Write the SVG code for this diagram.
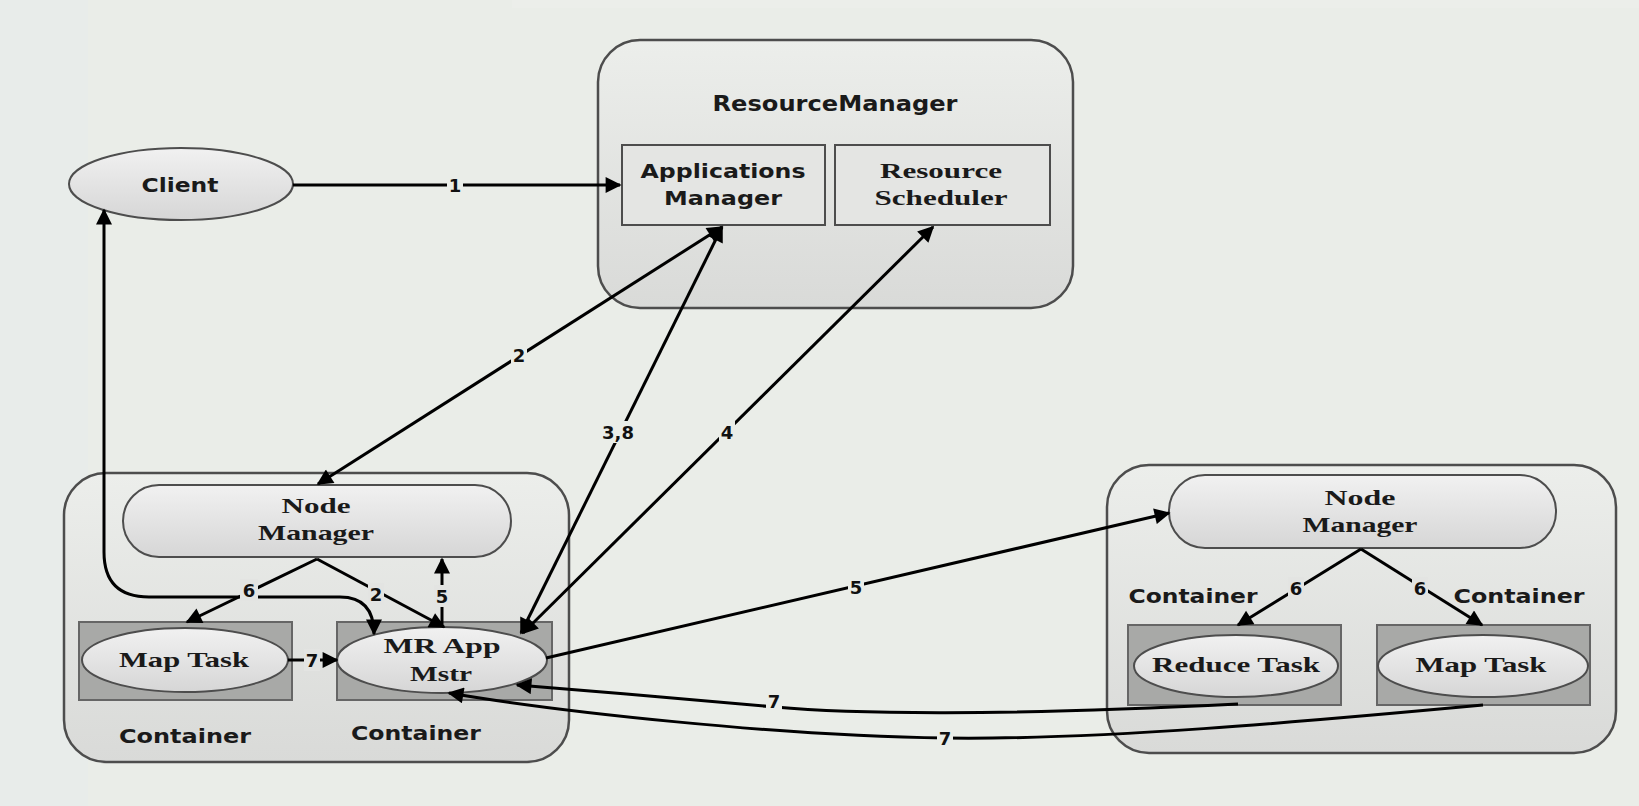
<svg xmlns="http://www.w3.org/2000/svg" width="1639" height="806" viewBox="0 0 1639 806">
<defs>
<linearGradient id="gOuter" x1="0" y1="0" x2="0" y2="1"><stop offset="0" stop-color="#eceeeb"/><stop offset="1" stop-color="#d9dad8"/></linearGradient>
<linearGradient id="gNode" x1="0" y1="0" x2="0" y2="1"><stop offset="0" stop-color="#f1f1f1"/><stop offset="1" stop-color="#d6d6d6"/></linearGradient>
<marker id="ah" viewBox="0 0 10 10" markerWidth="20" markerHeight="16" refX="9" refY="5" orient="auto-start-reverse" markerUnits="userSpaceOnUse"><path d="M0,0 L10,5 L0,10 z" fill="#000"/></marker>
<style>
.outer{fill:url(#gOuter);stroke:#4d4d4d;stroke-width:2.5}
.node{fill:url(#gNode);stroke:#4d4d4d;stroke-width:2}
.box{fill:#e4e5e3;stroke:#4d4d4d;stroke-width:2}
.cont{fill:#a8a9a7;stroke:#666;stroke-width:2}
.sans{font-family:"DejaVu Sans","Liberation Sans",sans-serif;font-weight:bold;fill:#1a1a1a;text-anchor:middle}
.serif{font-family:"Liberation Serif","DejaVu Serif",serif;font-weight:bold;fill:#1a1a1a;text-anchor:middle}
.lbl{font-family:"DejaVu Sans","Liberation Sans",sans-serif;font-weight:bold;font-size:18px;fill:#111;text-anchor:middle}
.c{fill:none;stroke:#000;stroke-width:3}
.bg{fill:#eaede8}
.bgc{fill:#e3e4e2}
</style>
</defs>
<rect width="1639" height="806" fill="#eaede8"/>
<rect x="0" y="0" width="88" height="806" fill="#e8ecea"/>
<rect x="512" y="0" width="1127" height="8" fill="#eceeea"/>

<g id="resourcemanager">
<rect class="outer" x="598" y="40" width="475" height="268" rx="42"/>
<text class="sans" x="835" y="111" font-size="21" textLength="245" lengthAdjust="spacingAndGlyphs">ResourceManager</text>
</g>
<g id="applications-manager">
<rect class="box" x="622" y="145" width="203" height="80"/>
<text class="sans" x="723" y="178" font-size="20" textLength="165" lengthAdjust="spacingAndGlyphs">Applications</text>
<text class="sans" x="723" y="205" font-size="20" textLength="118" lengthAdjust="spacingAndGlyphs">Manager</text>
</g>
<g id="resource-scheduler">
<rect class="box" x="835" y="145" width="215" height="80"/>
<text class="serif" x="941" y="178" font-size="22" textLength="122" lengthAdjust="spacingAndGlyphs">Resource</text>
<text class="serif" x="941" y="205" font-size="22" textLength="133" lengthAdjust="spacingAndGlyphs">Scheduler</text>
</g>
<g id="client">
<ellipse class="node" cx="181" cy="184" rx="112" ry="36"/>
<text class="sans" x="180" y="192" font-size="20" textLength="77" lengthAdjust="spacingAndGlyphs">Client</text>
</g>

<g id="left-node">
<rect class="outer" x="64" y="473" width="505" height="289" rx="42"/>
</g>
<g id="left-nodemanager">
<rect class="node" x="123" y="485" width="388" height="72" rx="36"/>
<text class="serif" x="316" y="513" font-size="22" textLength="69" lengthAdjust="spacingAndGlyphs">Node</text>
<text class="serif" x="316" y="540" font-size="22" textLength="116" lengthAdjust="spacingAndGlyphs">Manager</text>
</g>
<g id="left-container-map">
<rect class="cont" x="79" y="622" width="213" height="78"/>
<ellipse class="node" cx="185" cy="660" rx="103" ry="32"/>
<text class="serif" x="184" y="667" font-size="22" textLength="130" lengthAdjust="spacingAndGlyphs">Map Task</text>
<text class="sans" x="185" y="743" font-size="19" textLength="132" lengthAdjust="spacingAndGlyphs">Container</text>
</g>
<g id="left-container-mr">
<rect class="cont" x="337" y="622" width="215" height="78"/>
<ellipse class="node" cx="442" cy="660" rx="105" ry="33"/>
<text class="serif" x="442" y="653" font-size="22" textLength="117" lengthAdjust="spacingAndGlyphs">MR App</text>
<text class="serif" x="441" y="681" font-size="22" textLength="62" lengthAdjust="spacingAndGlyphs">Mstr</text>
<text class="sans" x="416" y="740" font-size="19" textLength="130" lengthAdjust="spacingAndGlyphs">Container</text>
</g>

<g id="right-node">
<rect class="outer" x="1107" y="465" width="509" height="288" rx="42"/>
</g>
<g id="right-nodemanager">
<rect class="node" x="1169" y="475" width="387" height="73" rx="36"/>
<text class="serif" x="1360" y="505" font-size="22" textLength="71" lengthAdjust="spacingAndGlyphs">Node</text>
<text class="serif" x="1360" y="532" font-size="22" textLength="115" lengthAdjust="spacingAndGlyphs">Manager</text>
</g>
<g id="right-container-reduce">
<rect class="cont" x="1128" y="625" width="213" height="80"/>
<ellipse class="node" cx="1236" cy="666" rx="102" ry="31"/>
<text class="serif" x="1236" y="672" font-size="22" textLength="168" lengthAdjust="spacingAndGlyphs">Reduce Task</text>
<text class="sans" x="1193" y="603" font-size="19" textLength="129" lengthAdjust="spacingAndGlyphs">Container</text>
</g>
<g id="right-container-map">
<rect class="cont" x="1377" y="625" width="213" height="80"/>
<ellipse class="node" cx="1483" cy="666" rx="105" ry="31"/>
<text class="serif" x="1481" y="672" font-size="22" textLength="131" lengthAdjust="spacingAndGlyphs">Map Task</text>
<text class="sans" x="1519" y="603" font-size="19" textLength="131" lengthAdjust="spacingAndGlyphs">Container</text>
</g>

<g id="connectors">
<path class="c" d="M293,185 L620,185" marker-end="url(#ah)"/>
<path class="c" d="M318,484 L722,227" marker-start="url(#ah)" marker-end="url(#ah)"/>
<path class="c" d="M521,633 L722,227" marker-start="url(#ah)" marker-end="url(#ah)"/>
<path class="c" d="M523,633 L933,227" marker-start="url(#ah)" marker-end="url(#ah)"/>
<path class="c" d="M104,210 L104,552 Q104,597 149,597 L340,597 Q374,597 374,634" marker-start="url(#ah)" marker-end="url(#ah)"/>
<path class="c" d="M317,559 L187,622" marker-end="url(#ah)"/>
<path class="c" d="M317,559 L444,627" marker-end="url(#ah)"/>
<path class="c" d="M442,627 L442,559" marker-end="url(#ah)"/>
<path class="c" d="M288,660 L337,660" marker-end="url(#ah)"/>
<path class="c" d="M546,658 L1169,513" marker-end="url(#ah)"/>
<path class="c" d="M1361,549 L1238,625" marker-end="url(#ah)"/>
<path class="c" d="M1361,549 L1482,625" marker-end="url(#ah)"/>
<path class="c" d="M1238,704 C1000,716 850,714 775,707 S600,692 517,685" marker-end="url(#ah)"/>
<path class="c" d="M1483,705 C1300,722 1100,740 945,738 C780,736 560,712 449,693" marker-end="url(#ah)"/>

<rect class="bg" x="447" y="174" width="16" height="22"/><text class="lbl" x="455" y="192">1</text>
<rect class="bg" x="511" y="344" width="16" height="22"/><text class="lbl" x="519" y="362">2</text>
<rect class="bg" x="601" y="421" width="34" height="22"/><text class="lbl" x="618" y="439">3,8</text>
<rect class="bg" x="719" y="421" width="16" height="22"/><text class="lbl" x="727" y="439">4</text>
<rect class="bgc" x="240" y="579" width="18" height="22"/><text class="lbl" x="249" y="597">6</text>
<rect class="bgc" x="368" y="583" width="16" height="22"/><text class="lbl" x="376" y="601">2</text>
<rect class="bgc" x="434" y="585" width="16" height="22"/><text class="lbl" x="442" y="603">5</text>
<rect class="bgc" x="304" y="649" width="16" height="22"/><text class="lbl" x="312" y="667">7</text>
<rect class="bg" x="848" y="576" width="16" height="22"/><text class="lbl" x="856" y="594">5</text>
<rect class="bgc" x="1288" y="577" width="16" height="22"/><text class="lbl" x="1296" y="595">6</text>
<rect class="bgc" x="1412" y="577" width="16" height="22"/><text class="lbl" x="1420" y="595">6</text>
<rect class="bg" x="766" y="690" width="16" height="22"/><text class="lbl" x="774" y="708">7</text>
<rect class="bg" x="937" y="727" width="16" height="22"/><text class="lbl" x="945" y="745">7</text>
</g>
</svg>
